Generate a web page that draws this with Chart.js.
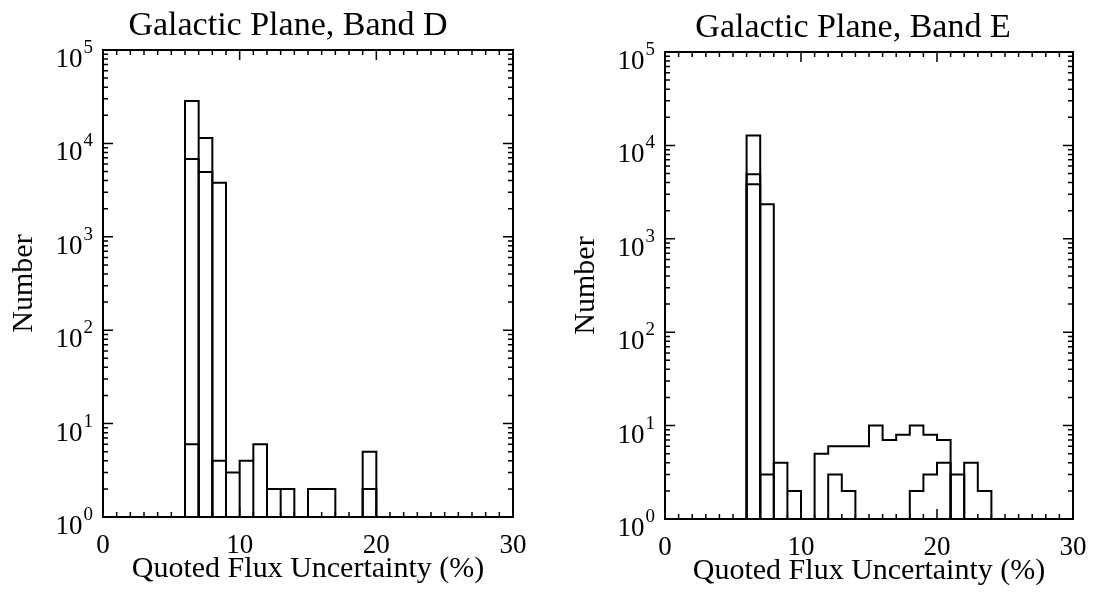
<!DOCTYPE html>
<html>
<head>
<meta charset="utf-8">
<script src="https://cdn.jsdelivr.net/npm/chart.js@4.4.1/dist/chart.umd.min.js"></script>
<style>
  body { margin: 0; background: #fff; }
  #wrap { position: relative; width: 1094px; height: 598px; background: #fff; }
  canvas { position: absolute; top: 0; }
  #chartD { left: 0; }
  #chartE { left: 547px; }
</style>
</head>
<body>
<div id="wrap">
  <canvas id="chartD" width="547" height="598"></canvas>
  <canvas id="chartE" width="547" height="598"></canvas>
</div>
<script>
const FONT = '"Liberation Serif", "Times New Roman", serif';

// axis ticks
const xTicks = [0, 10, 20, 30];
const yDecades = [0, 1, 2, 3, 4, 5];

// Band D (bin = lower edge, 1% wide)
const dAllBins = [6, 7, 8];
const dAllCounts = [28400, 11400, 3780];
const dMidBins = [6, 7];
const dMidCounts = [6800, 4940];
const dLowBins = [6, 8, 9, 10, 11, 12, 13, 19];
const dLowCounts = [6, 4, 3, 4, 6, 2, 2, 5];
const dLow2Bins = [19];
const dLow2Counts = [2];
const dTailBins = [15, 16];
const dTailCounts = [2, 2];

// Band E
const eAllBins = [6, 7];
const eAllCounts = [12800, 2350];
const eMidBins = [6];
const eMidCounts = [4900];
const eMid2Bins = [6];
const eMid2Counts = [3830];
const eLowBins = [7, 8, 9, 21];
const eLowCounts = [3, 4, 2, 3];
const eWideBins = [11, 12, 13, 14, 15, 16, 17, 18, 19, 20];
const eWideCounts = [5, 6, 6, 6, 10, 7, 8, 10, 8, 7];
const eStepBins = [12, 13, 18, 19, 20, 22, 23];
const eStepCounts = [3, 2, 2, 3, 4, 4, 2];

const BASE = 1; // bottom of log axis

// outline of a histogram; "joined" draws neighbouring bins as one step line
function histPoints(bins, counts, joined) {
  const pts = [];
  bins.forEach((b, i) => {
    const prevAdj = joined && i > 0 && bins[i - 1] === b - 1;
    const nextAdj = joined && i < bins.length - 1 && bins[i + 1] === b + 1;
    if (!prevAdj) pts.push({ x: b, y: BASE });
    pts.push({ x: b, y: counts[i] });
    if (!nextAdj) pts.push({ x: b + 1, y: BASE });
  });
  return pts;
}

const axesBox = {
  id: "axesBox",
  afterDraw(chart) {
    const { ctx, chartArea: a, scales: { x, y } } = chart;
    ctx.save();
    ctx.strokeStyle = "#000";
    ctx.lineWidth = 2;
    ctx.strokeRect(a.left, a.top, a.right - a.left, a.bottom - a.top);
    ctx.lineWidth = 1.5;
    ctx.beginPath();
    for (let v = 0; v <= 30; v++) {
      const px = x.getPixelForValue(v);
      const len = v % 10 === 0 ? 10 : 5;
      ctx.moveTo(px, a.bottom); ctx.lineTo(px, a.bottom - len);
      ctx.moveTo(px, a.top); ctx.lineTo(px, a.top + len);
    }
    yDecades.forEach(k => {
      for (let m = 1; m < 10; m++) {
        if (k === 5 && m > 1) break;
        const py = y.getPixelForValue(m * Math.pow(10, k));
        const len = m === 1 ? 10 : 5;
        ctx.moveTo(a.left, py); ctx.lineTo(a.left + len, py);
        ctx.moveTo(a.right, py); ctx.lineTo(a.right - len, py);
      }
    });
    ctx.stroke();
    ctx.restore();
  }
};

const panelText = {
  id: "panelText",
  afterDraw(chart, args, opts) {
    const { ctx, chartArea: a, scales: { x, y } } = chart;
    const mid = (a.left + a.right) / 2;
    ctx.save();
    ctx.fillStyle = "#000";
    ctx.textBaseline = "alphabetic";
    ctx.textAlign = "center";

    ctx.font = `34px ${FONT}`;
    ctx.fillText(opts.title, mid + opts.titleShift, opts.titleY);

    ctx.font = `27px ${FONT}`;
    xTicks.forEach(v => ctx.fillText(String(v), x.getPixelForValue(v), a.bottom + 36));
    ctx.font = `30px ${FONT}`;
    ctx.fillText("Quoted Flux Uncertainty (%)", mid, a.bottom + 60);

    ctx.textAlign = "right";
    yDecades.forEach(k => {
      const py = y.getPixelForValue(Math.pow(10, k));
      ctx.font = `19px ${FONT}`;
      const supW = ctx.measureText(String(k)).width;
      ctx.fillText(String(k), a.left - 10, py + 3);
      ctx.font = `27px ${FONT}`;
      ctx.fillText("10", a.left - 10 - supW - 1, py + 17);
    });

    ctx.translate(a.left - 71, (a.top + a.bottom) / 2);
    ctx.rotate(-Math.PI / 2);
    ctx.textAlign = "center";
    ctx.font = `30px ${FONT}`;
    ctx.fillText("Number", 0, 0);
    ctx.restore();
  }
};

function makeChart(id, series, pad, text) {
  return new Chart(document.getElementById(id), {
    type: "line",
    data: {
      datasets: series.map(s => ({
        data: histPoints(s.bins, s.counts, s.joined),
        borderColor: "#000",
        borderWidth: 2,
        pointRadius: 0,
        stepped: true,
        fill: false
      }))
    },
    options: {
      responsive: false,
      animation: false,
      layout: { padding: pad },
      scales: {
        x: { type: "linear", min: 0, max: 30, display: false, ticks: { stepSize: 10 } },
        y: { type: "logarithmic", min: 1, max: 100000, display: false }
      },
      plugins: {
        legend: { display: false },
        tooltip: { enabled: false },
        panelText: text
      }
    },
    plugins: [axesBox, panelText]
  });
}

makeChart("chartD", [
  { bins: dAllBins, counts: dAllCounts },
  { bins: dMidBins, counts: dMidCounts },
  { bins: dLowBins, counts: dLowCounts },
  { bins: dLow2Bins, counts: dLow2Counts },
  { bins: dTailBins, counts: dTailCounts, joined: true }
], { left: 103, right: 34, top: 50, bottom: 81 },
  { title: "Galactic Plane, Band D", titleShift: -20, titleY: 35 });

makeChart("chartE", [
  { bins: eAllBins, counts: eAllCounts },
  { bins: eMidBins, counts: eMidCounts },
  { bins: eMid2Bins, counts: eMid2Counts },
  { bins: eLowBins, counts: eLowCounts },
  { bins: eWideBins, counts: eWideCounts, joined: true },
  { bins: eStepBins, counts: eStepCounts, joined: true }
], { left: 118, right: 21, top: 52, bottom: 79 },
  { title: "Galactic Plane, Band E", titleShift: -16, titleY: 37 });
</script>
</body>
</html>
